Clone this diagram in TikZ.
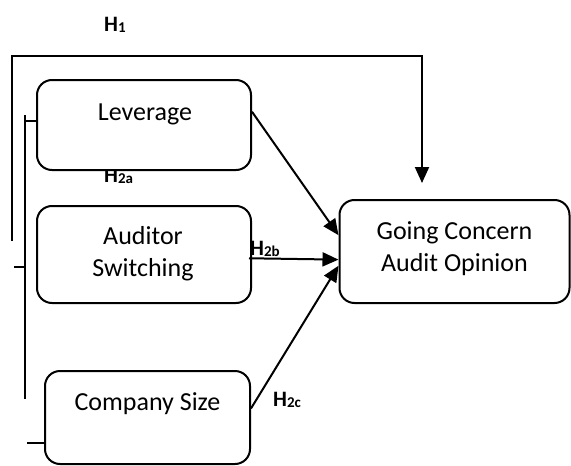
\documentclass[tikz,border=0pt]{standalone}
\usepackage{fontspec}
\setmainfont{Carlito}
\usetikzlibrary{arrows.meta}
\tikzset{
  box/.style={draw, line width=2pt, rounded corners=15pt, fill=white, inner sep=0pt},
  txt/.style={font=\fontsize{26}{32}\selectfont, align=center, inner sep=0pt},
  hlab/.style={anchor=base west, inner sep=0pt, font=\bfseries\fontsize{22}{26}\selectfont},
  ln/.style={line width=2pt},
  arr/.style={line width=2pt, -{Triangle[length=16pt,width=14pt]}}
}
\newcommand{\hsub}[1]{\raisebox{-1pt}{\fontsize{15}{17}\selectfont #1}}
\begin{document}
\begin{tikzpicture}[x=1pt,y=-1pt]
\useasboundingbox (0,0) rectangle (571,466);
% labels under boxes
\node[hlab] (h1) at (104,31) {H\hsub{1}};
\node[hlab] (h2a) at (104,182) {H\hsub{2a}};
% boxes
\node[box, minimum width=214pt, minimum height=90pt] (lev) at (144,125) {};
\node[box, minimum width=214pt, minimum height=97pt] (aud) at (144,254.5) {};
\node[box, minimum width=205pt, minimum height=93pt] (size) at (147.5,417.5) {};
\node[box, minimum width=230pt, minimum height=103pt] (gc) at (454.5,251.5) {};
% texts
\node[txt] (tlev) at (145,114) {Leverage};
\node[txt] (taud) at (143,254) {Auditor\\Switching};
\node[txt] (tsize) at (147.5,404) {Company Size};
\node[txt] (tgc) at (454.5,249) {Going Concern\\Audit Opinion};
% H1 path
\coordinate (h1a) at (12,241);
\coordinate (h1b) at (422,56);
\coordinate (h1e) at (422,183);
\draw[arr] (h1a) |- (h1b) -- (h1e);
% bracket lines
\coordinate (b1) at (25,115);
\coordinate (b2) at (25,399);
\draw[ln] (b1) -- (b2);
\coordinate (t1) at (25,121);
\draw[ln] (t1) -- (t1 -| lev.west);
\coordinate (t2a) at (14,267);
\coordinate (t2b) at (25,267);
\draw[ln] (t2a) -- (t2b);
\coordinate (t3) at (27,443);
\draw[ln] (t3) -- (t3 -| size.west);
% arrows
\draw[arr] (lev.7) -- (gc.172);
\draw[arr] ([xshift=-3pt]aud.-2) -- (gc.184);
\draw[arr] (size.5) -- (gc.187);
% labels
\node[hlab] (h2b) at (250,255) {H\hsub{2b}};
\node[hlab] (h2c) at (273,406) {H\hsub{2c}};
\end{tikzpicture}
\end{document}
